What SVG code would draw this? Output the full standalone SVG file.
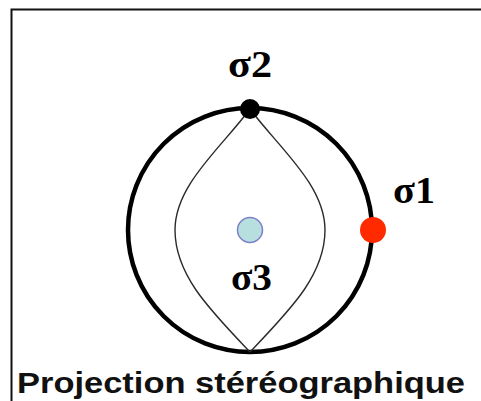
<svg xmlns="http://www.w3.org/2000/svg" width="481" height="401" viewBox="0 0 481 401">
  <style>
    .sig { font-family: "Liberation Serif", "Times New Roman", serif; font-weight: bold; font-size: 38px; fill: #000; }
    .title { font-family: "Liberation Sans", Arial, sans-serif; font-weight: bold; font-size: 30px; fill: #111; }
    .gc { fill: none; stroke: #2a2a2a; stroke-width: 1.4; }
  </style>
  <rect x="0" y="0" width="481" height="401" fill="#fff"/>
  <g id="frame">
    <rect x="11.5" y="9.5" width="520" height="520" fill="none" stroke="#111" stroke-width="2"/>
  </g>
  <g id="primitive">
    <circle cx="250" cy="230" r="122" fill="none" stroke="#000" stroke-width="4.5"/>
  </g>
  <g id="connectors">
    <path class="gc" d="M250,109 C221,148 175,185 175,230 C175,275 210,310 250,352"/>
    <path class="gc" d="M250,109 C279,148 325,185 325,230 C325,275 290,310 250,352"/>
  </g>
  <g id="sigma2">
    <circle cx="250" cy="109" r="10" fill="#000"/>
    <text class="sig" x="228" y="77" textLength="44" lengthAdjust="spacingAndGlyphs">σ2</text>
  </g>
  <g id="sigma1">
    <circle cx="373" cy="230" r="13" fill="#ff2a00"/>
    <text class="sig" x="393" y="203" textLength="42" lengthAdjust="spacingAndGlyphs">σ1</text>
  </g>
  <g id="sigma3">
    <circle cx="250" cy="230" r="12.5" fill="#b8dfe0" stroke="#7b80c8" stroke-width="1.5"/>
    <text class="sig" x="231" y="290" textLength="41" lengthAdjust="spacingAndGlyphs">σ3</text>
  </g>
  <g id="caption">
    <text class="title" x="17" y="393" textLength="448" lengthAdjust="spacingAndGlyphs">Projection stéréographique</text>
  </g>
</svg>
